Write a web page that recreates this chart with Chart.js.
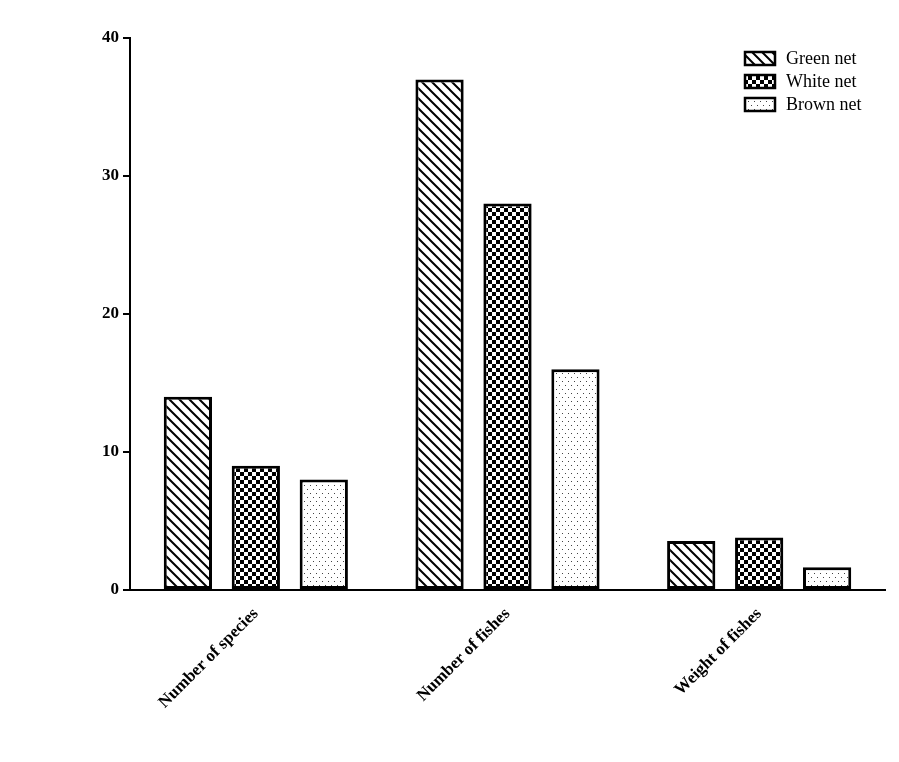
<!DOCTYPE html>
<html lang="en">
  <head>
    <meta charset="UTF-8" />
    <script src="https://cdn.jsdelivr.net/npm/chart.js@4"></script>
    <style>
      body { margin: 0; background: #fff; }
      #wrap { width: 899px; height: 762px; }
    </style>
  </head>
  <body>
    <div id="wrap"><canvas id="myChart"></canvas></div>
    <script>
      const categories = ["Number of species", "Number of fishes", "Weight of fishes"];
      const seriesNames = ["Green net", "White net", "Brown net"];
      const greenNet = [14, 37, 3.55];
      const whiteNet = [9, 28, 3.8];
      const brownNet = [8, 16, 1.65];
      const yTicks = [0, 10, 20, 30, 40];

      function makePattern(kind) {
        const c = document.createElement("canvas");
        const g = c.getContext("2d");
        if (kind === "hatch") {
          c.width = 10; c.height = 10;
          g.fillStyle = "#fff"; g.fillRect(0, 0, 10, 10);
          g.strokeStyle = "#000"; g.lineWidth = 2;
          g.beginPath();
          g.moveTo(-5, 5); g.lineTo(5, 15);
          g.moveTo(0, 0); g.lineTo(10, 10);
          g.moveTo(5, -5); g.lineTo(15, 5);
          g.stroke();
        } else if (kind === "checker") {
          c.width = 8; c.height = 8;
          g.fillStyle = "#fff"; g.fillRect(0, 0, 8, 8);
          g.fillStyle = "#000";
          g.fillRect(0, 0, 4, 4); g.fillRect(4, 4, 4, 4);
        } else {
          c.width = 6; c.height = 8;
          g.fillStyle = "#fff"; g.fillRect(0, 0, 6, 8);
          g.fillStyle = "#444";
          g.fillRect(1, 1, 1, 1); g.fillRect(4, 5, 1, 1);
        }
        return g.createPattern(c, "repeat");
      }
      const fills = [makePattern("hatch"), makePattern("checker"), makePattern("dots")];

      const legendPlugin = {
        id: "boxLegend",
        afterDraw(chart) {
          const ctx = chart.ctx;
          ctx.save();
          chart.data.datasets.forEach((ds, i) => {
            const y = 52 + i * 23;
            ctx.fillStyle = ds.backgroundColor;
            ctx.fillRect(745, y, 30, 13);
            ctx.strokeStyle = "#000"; ctx.lineWidth = 2.5;
            ctx.strokeRect(745, y, 30, 13);
            ctx.fillStyle = "#000";
            ctx.font = "18px 'Liberation Serif'";
            ctx.textBaseline = "middle";
            ctx.fillText(ds.label, 786, y + 7);
          });
          ctx.restore();
        }
      };

      const ctx = document.getElementById("myChart").getContext("2d");
      new Chart(ctx, {
        type: "bar",
        data: {
          labels: categories,
          datasets: [greenNet, whiteNet, brownNet].map((d, i) => ({
            label: seriesNames[i],
            data: d,
            backgroundColor: fills[i],
            borderColor: "#000",
            borderWidth: 3,
            borderSkipped: false,
            categoryPercentage: 0.81,
            barPercentage: 0.71
          }))
        },
        options: {
          responsive: true,
          maintainAspectRatio: false,
          animation: false,
          layout: { padding: { top: 38, right: 14, left: 0, bottom: 0 } },
          plugins: { legend: { display: false }, tooltip: { enabled: false } },
          scales: {
            x: {
              grid: { display: false, drawTicks: false },
              border: { color: "#000", width: 2 },
              ticks: {
                color: "#000", maxRotation: 45, minRotation: 45, padding: 14,
                font: { family: "Liberation Serif", size: 17, weight: 700 }
              },
              afterFit: s => { s.height = 172; }
            },
            y: {
              min: 0, max: 40,
              afterBuildTicks: s => { s.ticks = yTicks.map(v => ({ value: v })); },
              grid: { display: true, drawOnChartArea: false, color: "#000", lineWidth: 2, tickLength: 7 },
              border: { color: "#000", width: 2 },
              ticks: {
                color: "#000", padding: 4,
                font: { family: "Liberation Serif", size: 17, weight: 700 }
              },
              afterFit: s => { s.width = 130; }
            }
          }
        },
        plugins: [legendPlugin]
      });
    </script>
  </body>
</html>
